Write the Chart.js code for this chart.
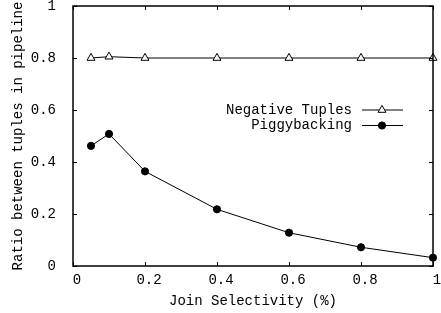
<!DOCTYPE html>
<html>
<head>
<meta charset="UTF-8">
<title>Join selectivity</title>
<script src="https://cdn.jsdelivr.net/npm/chart.js@4.4.1/dist/chart.umd.min.js"></script>
<style>
  html, body { margin: 0; padding: 0; background: #fff; }
</style>
</head>
<body>
<canvas id="myChart" width="441" height="313"></canvas>
<script>
// values
var selectivity = [0.05, 0.1, 0.2, 0.4, 0.6, 0.8, 1.0];
var negativeTuples = [0.8, 0.805, 0.8, 0.8, 0.8, 0.8, 0.8];
var piggybacking = [0.462, 0.508, 0.364, 0.218, 0.128, 0.072, 0.032];
var seriesNames = ['Negative Tuples', 'Piggybacking'];
var xTitle = 'Join Selectivity (%)';
var yTitle = 'Ratio between tuples in pipeline';

var font = { family: '"Liberation Mono", monospace', size: 14 };

function points(ys) {
    return selectivity.map(function (x, i) { return { x: x, y: ys[i] }; });
}

// "1" and "0" rather than "1.0"
function tickText(v) {
    return String(Math.round(v * 10) / 10);
}

// gnuplot-ish frame: box, inward ticks on all sides, legend inside the plot
var framePlugin = {
    id: 'frame',
    afterDraw: function (chart) {
        var ctx = chart.ctx, a = chart.chartArea;
        var xs = chart.scales.x, ys = chart.scales.y;
        ctx.save();
        ctx.strokeStyle = '#000';
        ctx.lineWidth = 1.5;
        ctx.strokeRect(a.left, a.top, a.right - a.left, a.bottom - a.top);
        ctx.lineWidth = 1;
        ctx.beginPath();
        xs.ticks.forEach(function (t) {
            var px = Math.round(xs.getPixelForValue(t.value)) + 0.5;
            ctx.moveTo(px, a.bottom); ctx.lineTo(px, a.bottom - 4);
            ctx.moveTo(px, a.top); ctx.lineTo(px, a.top + 4);
        });
        ys.ticks.forEach(function (t) {
            var py = Math.round(ys.getPixelForValue(t.value)) + 0.5;
            ctx.moveTo(a.left, py); ctx.lineTo(a.left + 4, py);
            ctx.moveTo(a.right, py); ctx.lineTo(a.right - 4, py);
        });
        ctx.stroke();

        // legend
        ctx.font = font.size + 'px ' + font.family;
        ctx.textAlign = 'right';
        ctx.textBaseline = 'middle';
        chart.data.datasets.forEach(function (ds, i) {
            var y = 110 + i * 15.5;
            ctx.fillStyle = '#000';
            ctx.fillText(ds.label, 352, y);
            ctx.strokeStyle = '#000';
            ctx.lineWidth = 1;
            ctx.beginPath();
            ctx.moveTo(362, y); ctx.lineTo(403, y);
            ctx.stroke();
            ctx.fillStyle = ds.pointBackgroundColor;
            ctx.strokeStyle = ds.pointBorderColor;
            Chart.helpers.drawPoint(ctx, {
                pointStyle: ds.pointStyle, radius: ds.pointRadius,
                rotation: 0, borderWidth: ds.pointBorderWidth
            }, 382, y);
        });
        ctx.restore();
    }
};

var ctx = document.getElementById('myChart');
var myChart = new Chart(ctx, {
    type: 'scatter',
    data: {
        datasets: [{
            label: seriesNames[0],
            data: points(negativeTuples),
            showLine: true,
            borderColor: '#000',
            borderWidth: 1,
            pointStyle: 'triangle',
            pointRadius: 4.6,
            pointBorderWidth: 1,
            pointBackgroundColor: '#fff',
            pointBorderColor: '#000',
            clip: false
        }, {
            label: seriesNames[1],
            data: points(piggybacking),
            showLine: true,
            borderColor: '#000',
            borderWidth: 1,
            pointStyle: 'circle',
            pointRadius: 3.6,
            pointBorderWidth: 1,
            pointBackgroundColor: '#000',
            pointBorderColor: '#000',
            clip: false
        }]
    },
    options: {
        responsive: false,
        animation: false,
        layout: { padding: { left: 0, right: 8, top: 6, bottom: 0 } },
        plugins: { legend: { display: false }, tooltip: { enabled: false } },
        scales: {
            x: {
                type: 'linear', min: 0, max: 1,
                grid: { display: false },
                border: { display: false },
                ticks: { stepSize: 0.2, padding: -2, labelOffset: 4, maxRotation: 0, color: '#000', font: font, callback: tickText },
                title: { display: true, text: xTitle, color: '#000', font: font, padding: { top: 0, bottom: 3 } },
                afterFit: function (s) { s.height = 47; s.paddingLeft = 0; s.paddingRight = 0; }
            },
            y: {
                type: 'linear', min: 0, max: 1,
                grid: { display: false },
                border: { display: false },
                ticks: { stepSize: 0.2, padding: 9, color: '#000', font: font, callback: tickText },
                title: { display: true, text: yTitle, color: '#000', font: font, padding: { top: 10, bottom: 0 } },
                afterFit: function (s) { s.width = 73; s.paddingTop = 0; s.paddingBottom = 0; }
            }
        }
    },
    plugins: [framePlugin]
});
</script>
</body>
</html>
